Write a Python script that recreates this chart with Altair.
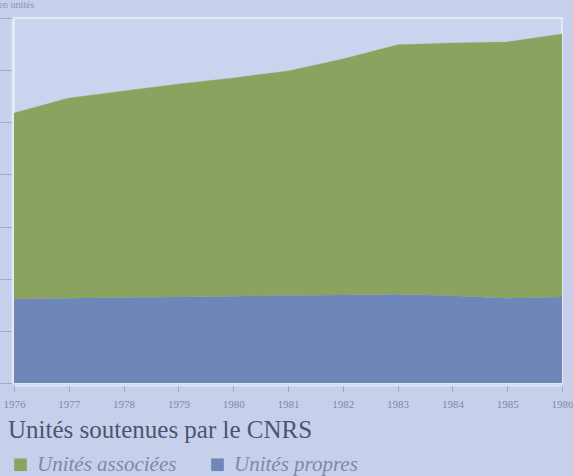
import altair as alt
import pandas as pd

# Units supported by the CNRS, 1976-1986
years = [1976, 1977, 1978, 1979, 1980, 1981, 1982, 1983, 1984, 1985, 1986]
unites_propres = [322, 325, 328, 330, 333, 336, 338, 340, 335, 325, 330]
total_unites = [1036, 1093, 1120, 1147, 1170, 1197, 1243, 1297, 1304, 1308, 1339]
unites_associees = [t - p for t, p in zip(total_unites, unites_propres)]

series_names = ["Unités associées", "Unités propres"]
series_colors = ["#8aa45f", "#6e86b8"]

rows = []
for y, a, p in zip(years, unites_associees, unites_propres):
    rows.append({"annee": str(y), "serie": "Unités propres", "valeur": p, "ordre": 0})
    rows.append({"annee": str(y), "serie": "Unités associées", "valeur": a, "ordre": 1})
df = pd.DataFrame(rows)

text_color = "#4d5470"
label_color = "#7f88aa"
tick_color = "#9ea8c8"

chart = (
    alt.Chart(df)
    .mark_area(opacity=1, line={"color": "#5f6f50", "strokeWidth": 0.6, "strokeOpacity": 0.5})
    .encode(
        x=alt.X(
            "annee:O",
            scale=alt.Scale(type="point", padding=0),
            axis=alt.Axis(
                title=None,
                labelAngle=0,
                labelFont="Liberation Serif",
                labelFontSize=11,
                labelColor=label_color,
                labelPadding=6,
                tickColor=tick_color,
                tickSize=7,
                domainColor="#e4e9f6",
                domainWidth=1.5,
                offset=2,
            ),
        ),
        y=alt.Y(
            "valeur:Q",
            stack="zero",
            scale=alt.Scale(domain=[0, 1400]),
            axis=alt.Axis(
                title="en unités",
                titleAngle=0,
                titleX=-14,
                titleY=-14,
                titleAlign="left",
                titleBaseline="middle",
                titleFont="Liberation Serif",
                titleFontSize=10,
                titleFontWeight="normal",
                titleColor="#8d96b6",
                labels=False,
                values=[0, 200, 400, 600, 800, 1000, 1200, 1400],
                tickColor=tick_color,
                tickSize=12,
                domainColor="#e4e9f6",
                domainWidth=1.5,
                grid=False,
                offset=2,
            ),
        ),
        color=alt.Color(
            "serie:N",
            scale=alt.Scale(domain=series_names, range=series_colors),
            legend=alt.Legend(
                title=None,
                orient="none",
                legendX=-4,
                legendY=436,
                direction="horizontal",
                symbolType="square",
                symbolSize=160,
                symbolStrokeWidth=0,
                symbolOpacity=1,
                labelFont="Liberation Serif",
                labelFontStyle="italic",
                labelFontSize=21,
                labelColor=label_color,
                columnPadding=30,
                labelOffset=6,
            ),
        ),
        order=alt.Order("ordre:Q"),
    )
    .properties(
        width=548,
        height=365,
        autosize=alt.AutoSizeParams(type="none"),
        padding={"left": 14, "top": 18, "right": 11, "bottom": 93},
        background="#c6d0eb",
        title=alt.TitleParams(
            "Unités soutenues par le CNRS",
            orient="top",
            anchor="start",
            baseline="alphabetic",
            dx=10,
            dy=468,
            font="Liberation Serif",
            fontSize=25,
            fontWeight="normal",
            color=text_color,
        ),
    )
    .configure_view(fill="#cbd4ee", stroke="#edf0f9", strokeWidth=1.5)
)

chart.save("out.html", embed_options={"renderer": "svg", "actions": False})
